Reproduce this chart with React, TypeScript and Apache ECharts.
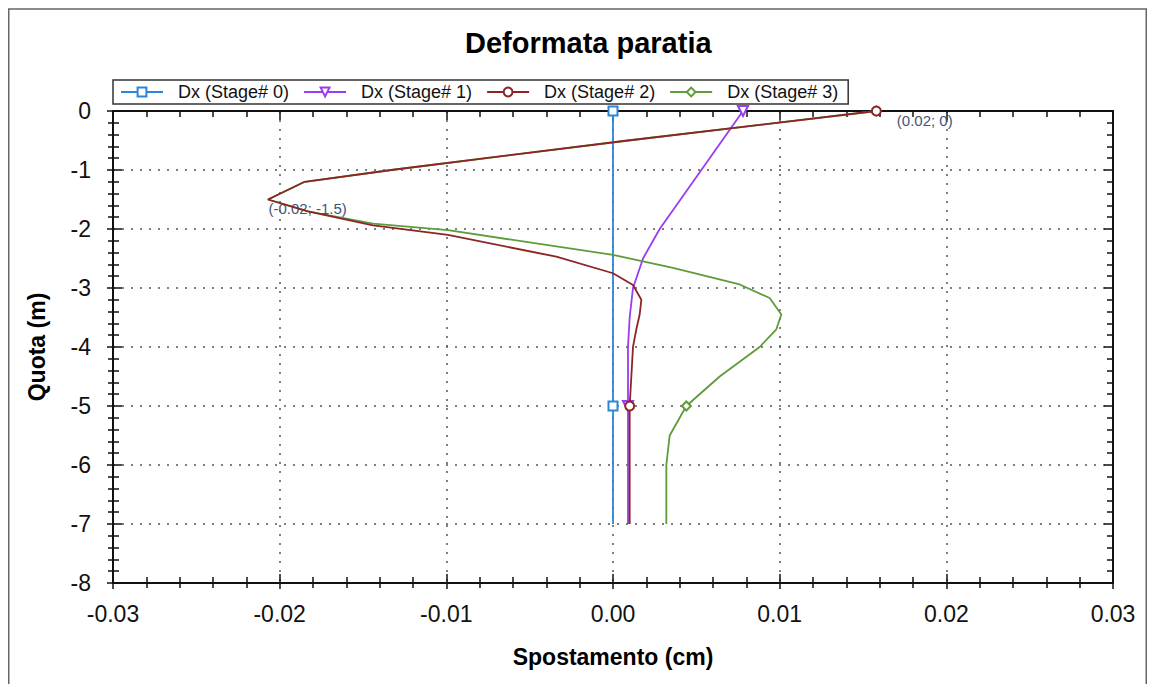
import React, { useEffect, useRef } from 'react';
import * as echarts from 'echarts';

const FONT = '"Liberation Sans", Arial, sans-serif';

const seriesNames = ['Dx (Stage# 0)', 'Dx (Stage# 1)', 'Dx (Stage# 2)', 'Dx (Stage# 3)'];

// Stage 0
const stage0Depth = [0, -5, -7];
const stage0X = [0, 0, 0];
// Stage 1
const stage1Depth = [0, -1, -2, -2.5, -3, -3.5, -4, -5, -6, -7];
const stage1X = [0.0078, 0.0053, 0.0028, 0.0018, 0.0012, 0.001, 0.0009, 0.0009, 0.0009, 0.0009];
// Stage 2
const stage2Depth = [0, -0.5, -1, -1.2, -1.5, -1.7, -1.94, -2.1, -2.47, -2.75, -2.95, -3.2, -3.45, -3.7, -4, -5, -6, -7];
const stage2X = [0.0158, 0.0009, -0.0133, -0.0185, -0.0207, -0.0183, -0.0144, -0.0099, -0.0034, 0, 0.0012, 0.0017, 0.0016, 0.0014, 0.0012, 0.001, 0.001, 0.001];
// Stage 3
const stage3Depth = [0, -0.5, -1, -1.2, -1.5, -1.7, -1.91, -2.02, -2.44, -2.66, -2.94, -3.17, -3.45, -3.7, -4, -4.5, -5, -5.5, -6, -7];
const stage3X = [0.0158, 0.0009, -0.0133, -0.0185, -0.0207, -0.0183, -0.0144, -0.0099, 0, 0.0036, 0.0076, 0.0094, 0.0101, 0.0098, 0.0088, 0.0064, 0.0044, 0.0034, 0.0032, 0.0032];

const markerDepths = [0, -5];

// annotations (series index, depth, text)
const annotations = [
  { series: 3, depth: 0, text: '(0.02; 0)' },
  { series: 3, depth: -1.5, text: '(-0.02; -1.5)' },
];

const xTicks = { min: -0.03, max: 0.03, interval: 0.01 };
const yTicks = { min: -8, max: 0, interval: 1 };

const colors = ['#2a86d8', '#9a3cf0', '#8c2525', '#5e9c3a'];
const symbols = ['emptyRect', 'emptyTriangle', 'emptyCircle', 'emptyDiamond'];
const symbolRotates = [0, 180, 0, 0];
const symbolSizes = [9, 10, 9, 9];

const allDepth = [stage0Depth, stage1Depth, stage2Depth, stage3Depth];
const allX = [stage0X, stage1X, stage2X, stage3X];

export default function App() {
  const ref = useRef<HTMLDivElement>(null);
  useEffect(() => {
    const chart = echarts.init(ref.current!, null, { renderer: 'svg' });
    const axisColor = '#111';
    const tickStyle = { color: axisColor, width: 1.5 };

    const series = allDepth.map((depths, s) => ({
      name: seriesNames[s],
      type: 'line',
      xAxisIndex: 0,
      yAxisIndex: 0,
      z: s === 2 ? 4 : s === 3 ? 3 : 2,
      symbol: symbols[s],
      symbolSize: symbolSizes[s],
      symbolRotate: symbolRotates[s],
      showSymbol: true,
      lineStyle: { color: colors[s], width: 1.8 },
      itemStyle: { color: colors[s], borderColor: colors[s], borderWidth: 1.5 },
      data: depths.map((d, i) => {
        const item: any = { value: [allX[s][i], d] };
        const ann = annotations.find((a) => a.series === s && a.depth === d);
        if (!markerDepths.includes(d)) {
          if (ann) {
            item.symbol = 'circle';
            item.symbolSize = 1;
            item.itemStyle = { color: 'rgba(0,0,0,0)', borderWidth: 0 };
          } else {
            item.symbol = 'none';
          }
        }
        if (ann) {
          item.label = {
            show: true,
            formatter: ann.text,
            position: 'right',
            offset: d === 0 ? [10, 9] : [-5, 9],
            fontSize: 15,
            color: '#44557a',
            fontFamily: FONT,
          };
        }
        return item;
      }),
    }));

    const xFmt = (v: number) => (Math.abs(v) < 1e-9 ? '0.00' : v.toFixed(2));
    const yFmt = (v: number) => String(Math.round(v));

    const option: any = {
      animation: false,
      backgroundColor: '#fff',
      title: {
        text: 'Deformata paratia',
        left: 452,
        top: 15,
        textStyle: { fontSize: 29, fontWeight: 'bold', color: '#000', fontFamily: FONT },
      },
      legend: {
        data: seriesNames,
        left: 105,
        top: 72,
        orient: 'horizontal',
        borderColor: '#333',
        borderWidth: 1.5,
        padding: [3, 10, 3, 7],
        itemGap: 14,
        itemWidth: 42,
        itemHeight: 11,
        textStyle: { fontSize: 18, color: '#111', fontFamily: FONT, padding: [0, 0, 0, 10] },
      },
      grid: { left: 105, right: 34, top: 103, bottom: 101, containLabel: false },
      graphic: [
        {
          type: 'rect',
          silent: true,
          z: -10,
          shape: { x: 0.75, y: 1, width: 1137.5, height: 720 },
          style: { fill: 'rgba(0,0,0,0)', stroke: '#666', lineWidth: 1.5 },
        },
      ],
      xAxis: [
        {
          type: 'value',
          ...xTicks,
          position: 'bottom',
          name: 'Spostamento (cm)',
          nameLocation: 'middle',
          nameGap: 62,
          nameTextStyle: { fontFamily: FONT, fontSize: 23, fontWeight: 'bold', color: '#000' },
          axisLine: { show: true, onZero: false, lineStyle: { color: axisColor, width: 2 } },
          axisTick: { show: true, inside: false, length: 6, lineStyle: tickStyle },
          minorTick: { show: true, splitNumber: 5, length: 5, lineStyle: tickStyle },
          axisLabel: { formatter: xFmt, fontSize: 23, color: '#111', margin: 19, fontFamily: FONT },
          splitLine: { show: true, lineStyle: { color: '#555', type: [2, 7], width: 1.5 } },
          minorSplitLine: { show: false },
        },
        {
          type: 'value',
          ...xTicks,
          position: 'bottom',
          axisLine: { show: false, onZero: false },
          axisTick: { show: true, inside: true, length: 9, lineStyle: tickStyle },
          minorTick: { show: true, splitNumber: 5, length: 6, lineStyle: tickStyle },
          axisLabel: { show: false },
          splitLine: { show: false },
        },
        {
          type: 'value',
          ...xTicks,
          position: 'top',
          axisLine: { show: true, onZero: false, lineStyle: { color: axisColor, width: 2 } },
          axisTick: { show: true, inside: true, length: 9, lineStyle: tickStyle },
          minorTick: { show: true, splitNumber: 5, length: 6, lineStyle: tickStyle },
          axisLabel: { show: false },
          splitLine: { show: false },
        },
      ],
      yAxis: [
        {
          type: 'value',
          ...yTicks,
          position: 'left',
          name: 'Quota (m)',
          nameLocation: 'middle',
          nameGap: 65,
          nameTextStyle: { fontFamily: FONT, fontSize: 23, fontWeight: 'bold', color: '#000' },
          axisLine: { show: true, onZero: false, lineStyle: { color: axisColor, width: 2 } },
          axisTick: { show: true, inside: false, length: 6, lineStyle: tickStyle },
          minorTick: { show: true, splitNumber: 5, length: 5, lineStyle: tickStyle },
          axisLabel: { formatter: yFmt, fontSize: 23, color: '#111', margin: 22, fontFamily: FONT },
          splitLine: { show: true, lineStyle: { color: '#555', type: [2, 7], width: 1.5 } },
          minorSplitLine: { show: false },
        },
        {
          type: 'value',
          ...yTicks,
          position: 'left',
          axisLine: { show: false, onZero: false },
          axisTick: { show: true, inside: true, length: 9, lineStyle: tickStyle },
          minorTick: { show: true, splitNumber: 5, length: 6, lineStyle: tickStyle },
          axisLabel: { show: false },
          splitLine: { show: false },
        },
        {
          type: 'value',
          ...yTicks,
          position: 'right',
          axisLine: { show: true, onZero: false, lineStyle: { color: axisColor, width: 2 } },
          axisTick: { show: true, inside: true, length: 9, lineStyle: tickStyle },
          minorTick: { show: true, splitNumber: 5, length: 6, lineStyle: tickStyle },
          axisLabel: { show: false },
          splitLine: { show: false },
        },
      ],
      series,
    };
    chart.setOption(option);
    return () => chart.dispose();
  }, []);
  return <div ref={ref} style={{ width: 1139, height: 676 }} />;
}
